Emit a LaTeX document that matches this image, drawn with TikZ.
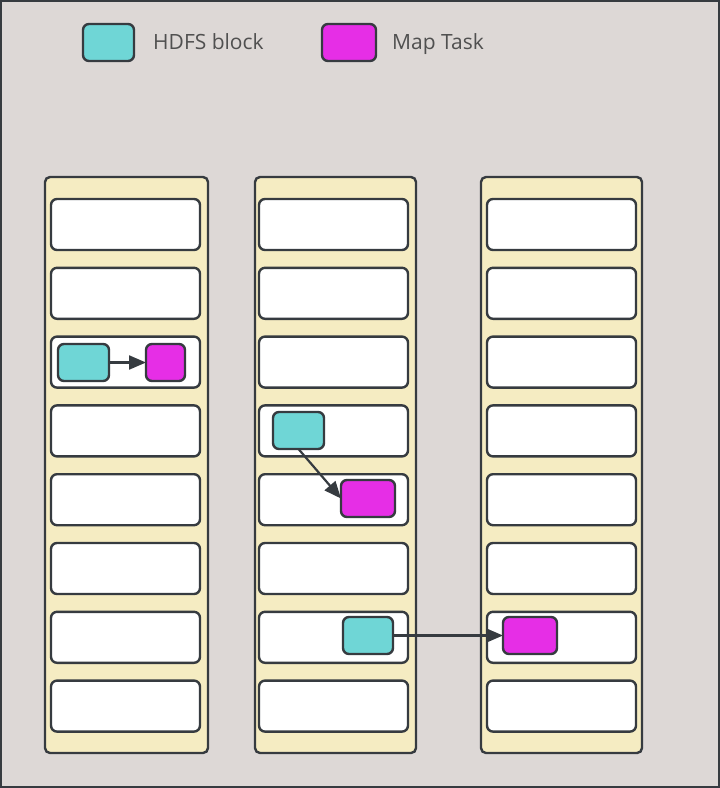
\documentclass[tikz,border=0pt]{standalone}
\usepackage{fontspec}
\setmainfont{Open Sans}
\usetikzlibrary{arrows.meta}
\definecolor{bgc}{HTML}{DDD8D6}
\definecolor{edge}{HTML}{363B40}
\definecolor{colfill}{HTML}{F5ECC2}
\definecolor{hdfs}{HTML}{6FD6D6}
\definecolor{maptask}{HTML}{E62EE6}
\definecolor{txt}{HTML}{505050}
\tikzset{
  frame/.style={draw=edge, line width=2.5pt, fill=bgc},
  column/.style={draw=edge, line width=2.4pt, fill=colfill, rounded corners=5pt, anchor=north west, inner sep=0pt, outer sep=0pt},
  slot/.style={draw=edge, line width=2.4pt, fill=white, rounded corners=6pt, anchor=north west, minimum width=149pt, minimum height=51pt, inner sep=0pt, outer sep=0pt},
  block/.style={draw=edge, line width=2.4pt, fill=hdfs, rounded corners=6pt, anchor=north west, minimum width=51pt, minimum height=37pt, inner sep=0pt, outer sep=0pt},
  task/.style={draw=edge, line width=2.4pt, fill=maptask, rounded corners=6pt, anchor=north west, minimum height=37pt, inner sep=0pt, outer sep=0pt},
  label/.style={text=txt, font=\fontsize{21}{25}\selectfont, anchor=base west, inner sep=0pt},
  link/.style={draw=edge, line width=2.2pt, -{Triangle[length=17pt,width=14pt]}}
}
\begin{document}
\begin{tikzpicture}[x=1pt,y=-1pt]
\useasboundingbox (0,0) rectangle (720,788);
\draw[frame] (1,1) rectangle (719,787);
% legend
\node[block] (lgb) at (83,24) {};
\node[label] (lgbt) at (153,49.5) {HDFS block};
\node[task, minimum width=54pt] (lgt) at (322,24) {};
\node[label] (lgtt) at (392,49.5) {Map Task};
% columns
\node[column, minimum width=163pt, minimum height=576pt] (col1) at (45,177) {};
\node[column, minimum width=161pt, minimum height=576pt] (col2) at (255,177) {};
\node[column, minimum width=161pt, minimum height=576pt] (col3) at (481,177) {};
\foreach \i in {1,...,8}{
  \pgfmathsetmacro{\yy}{199+(\i-1)*68.8}
  \node[slot] (a\i) at (51,\yy) {};
  \node[slot] (b\i) at (259,\yy) {};
  \node[slot] (c\i) at (487,\yy) {};
}
% blocks and tasks
\node[block] (h1) at (58,344) {};
\node[task, minimum width=39pt] (m1) at (146,344) {};
\node[block] (h2) at (273,412) {};
\node[task, minimum width=54pt] (m2) at (341,480) {};
\node[block, minimum width=50pt] (h3) at (343,617) {};
\node[task, minimum width=54pt] (m3) at (503,617) {};
% links
\draw[link] (h1.east) -- (m1.west);
\draw[link] (h2.south) -- (m2.west);
\draw[link] (h3.east) -- (m3.west);
\end{tikzpicture}
\end{document}
